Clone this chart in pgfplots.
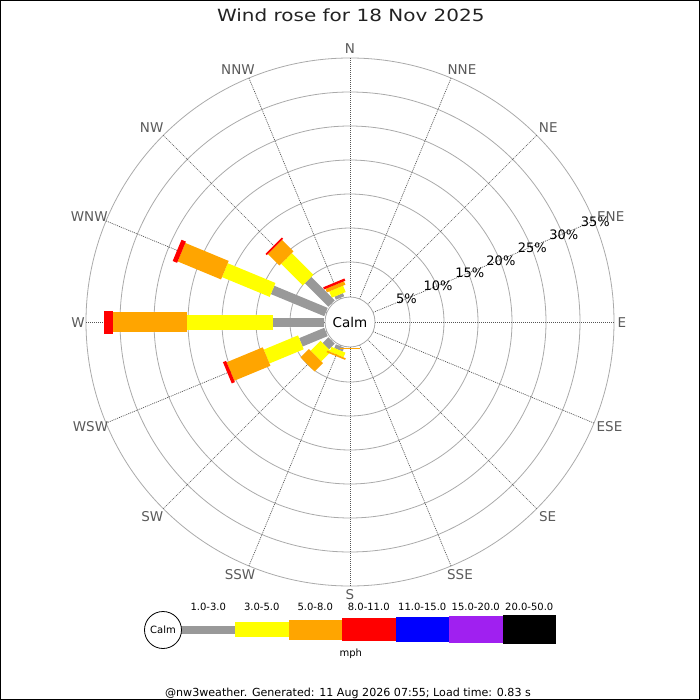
\documentclass[border=0pt]{standalone}
\usepackage{fontspec}
\setmainfont{DejaVu Sans}
\newfontfamily\titlefont[FakeStretch=1.19]{DejaVu Sans}
\usepackage{pgfplots}
\pgfplotsset{compat=1.18}
\usepgfplotslibrary{polar}
\definecolor{bgray}{HTML}{999999}
\definecolor{byellow}{HTML}{FFFF00}
\definecolor{borange}{HTML}{FFA500}
\definecolor{bred}{HTML}{FF0000}
\definecolor{bblue}{HTML}{0000FF}
\definecolor{bpurple}{HTML}{A020F0}
\definecolor{ringc}{HTML}{AAAAAA}
\definecolor{spokec}{HTML}{555555}
\definecolor{dirc}{HTML}{5A5A5A}
\definecolor{titlec}{HTML}{222222}
% one stacked segment: direction (compass deg), start %, end %, style
\newcommand{\seg}[4]{\addplot[forget plot, no markers, line cap=butt, #4] coordinates {(#1,#2) (#1,#3)};}
\begin{document}
\begin{tikzpicture}[x=1pt,y=1pt,
  c1/.style={draw=bgray, line width=9pt},
  c2/.style={draw=byellow, line width=15pt},
  c3/.style={draw=borange, line width=20pt},
  c4/.style={draw=bred, line width=23pt},
  dirl/.style={text=dirc, inner sep=0pt, font=\fontsize{13.5}{16}\selectfont},
  pctl/.style={text=black, inner sep=0pt, font=\fontsize{13}{15}\selectfont},
  legl/.style={text=black, inner sep=0pt, anchor=base, font=\fontsize{10}{12}\selectfont}]
\begin{polaraxis}[
  at={(0,0)}, anchor=center,
  scale only axis, width=528pt, height=528pt,
  xmin=0, xmax=360, ymin=0, ymax=38.8235,
  hide axis, clip=false,
  x filter/.expression={450-x},
  y filter/.expression={y+3.8235},
]
\coordinate (O) at (axis cs:0,0);
% rings 5% ... 35%
\pgfplotsinvokeforeach{60,94,128,162,196,230,264}{
  \draw[ringc, line width=0.8pt] (axis cs:0,0) circle[radius=#1pt];
}
% spokes
\pgfplotsinvokeforeach{0,22.5,...,337.5}{
  \draw[spokec, line width=0.7pt, dash pattern=on 1pt off 1pt] (axis cs:#1,3.676) -- (axis cs:#1,38.8235);
}
% calm disc
\draw[ringc, line width=0.8pt, fill=white] (axis cs:0,0) circle[radius=25pt];
% NNW
\seg{337.5}{0}{0.5}{c1}
\seg{337.5}{0.5}{1.5}{c2}
\seg{337.5}{1.5}{2.05}{c3}
\seg{337.5}{2.05}{2.4}{c4}
% NW
\seg{315}{0}{4.9}{c1}
\seg{315}{4.9}{9.4}{c2}
\seg{315}{9.4}{11.8}{c3}
\seg{315}{11.8}{12.05}{c4}
% WNW
\seg{292.5}{0}{8.5}{c1}
\seg{292.5}{8.5}{16.1}{c2}
\seg{292.5}{16.1}{23.0}{c3}
\seg{292.5}{23.0}{23.7}{c4}
% W
\seg{270}{0}{7.46}{c1}
\seg{270}{7.46}{20.1}{c2}
\seg{270}{20.1}{31.07}{c3}
\seg{270}{31.07}{32.35}{c4}
% WSW
\seg{247.5}{0}{4.0}{c1}
\seg{247.5}{4.0}{9.45}{c2}
\seg{247.5}{9.45}{15.2}{c3}
\seg{247.5}{15.2}{15.7}{c4}
% SW
\seg{225}{0}{1.2}{c1}
\seg{225}{1.2}{3.25}{c2}
\seg{225}{3.25}{5.0}{c3}
% SSW
\seg{202.5}{0}{0.6}{c1}
\seg{202.5}{0.6}{1.35}{c2}
\seg{202.5}{1.35}{1.6}{c3}
% S
\seg{180}{0}{0.05}{c2}
\seg{180}{0.05}{0.2}{c3}
\end{polaraxis}
\begin{scope}[shift={(O)}]
% frame
\draw[black, line width=1pt] (-349.5,-377.5) rectangle (349.5,321.5);
% title
\node[anchor=base, inner sep=0pt, text=titlec] at (0.8,300.7) {\titlefont\fontsize{16.8}{20}\selectfont Wind rose for 18 Nov 2025};
% centre label
\node[inner sep=0pt, font=\fontsize{13.5}{15}\selectfont] at (0,0) {Calm};
% percentage labels
\node[pctl] at (22.2:61) {5\%};
\node[pctl] at (22.2:95) {10\%};
\node[pctl] at (22.2:129.5) {15\%};
\node[pctl] at (22.2:163) {20\%};
\node[pctl] at (22.2:197) {25\%};
\node[pctl] at (22.2:231) {30\%};
\node[pctl] at (22.2:265) {35\%};
% direction labels
\node[dirl] at (0,273) {N};
\node[dirl] at (112,252) {NNE};
\node[dirl] at (198.3,194) {NE};
\node[dirl] at (260.7,105) {ENE};
\node[dirl] at (272,-0.5) {E};
\node[dirl] at (259.5,-105) {ESE};
\node[dirl] at (197.7,-195) {SE};
\node[dirl] at (110,-253) {SSE};
\node[dirl] at (0,-273) {S};
\node[dirl] at (-110,-253) {SSW};
\node[dirl] at (-197.7,-195) {SW};
\node[dirl] at (-259.5,-105) {WSW};
\node[dirl] at (-272,-0.5) {W};
\node[dirl] at (-260.7,105) {WNW};
\node[dirl] at (-198.3,194) {NW};
\node[dirl] at (-112,252) {NNW};
% legend
\fill[bgray] (-168.5,-311.5) rectangle (-115,-303.5);
\fill[byellow] (-115,-315) rectangle (-61.5,-300);
\fill[borange] (-61.5,-317.5) rectangle (-8,-297.5);
\fill[bred] (-8,-319) rectangle (45.5,-296);
\fill[bblue] (45.5,-320) rectangle (99,-295);
\fill[bpurple] (99,-321) rectangle (152.5,-294);
\fill[black] (152.5,-321.75) rectangle (206,-293.25);
\draw[black, line width=0.8pt, fill=white] (-187,-308) circle[radius=18.5];
\node[inner sep=0pt, font=\fontsize{10}{12}\selectfont] at (-187,-308) {Calm};
\node[legl] at (-141.75,-288.7) {1.0-3.0};
\node[legl] at (-88.25,-288.7) {3.0-5.0};
\node[legl] at (-34.75,-288.7) {5.0-8.0};
\node[legl] at (18.75,-288.7) {8.0-11.0};
\node[legl] at (72.25,-288.7) {11.0-15.0};
\node[legl] at (125.75,-288.7) {15.0-20.0};
\node[legl] at (179.25,-288.7) {20.0-50.0};
\node[legl] at (0.8,-334.7) {mph};
\node[anchor=base, inner sep=0pt, font=\fontsize{11.1}{13}\selectfont] at (-2,-374.7) {@nw3weather. Generated: 11 Aug 2026 07:55; Load time: 0.83 s};
\end{scope}
\pgfresetboundingbox
\path[use as bounding box] ([shift={(-350,-378)}]O) rectangle ([shift={(350,322)}]O);
\end{tikzpicture}
\end{document}
